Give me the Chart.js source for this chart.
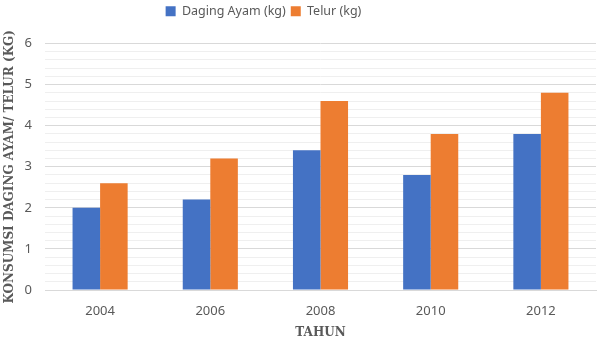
<!DOCTYPE html>
<html>
<head>
<meta charset="utf-8">
<script src="https://cdn.jsdelivr.net/npm/chart.js@4/dist/chart.umd.min.js"></script>
<style>
  html, body { margin: 0; padding: 0; background: #fff; }
  #wrap { width: 600px; height: 352px; }
</style>
</head>
<body>
<div id="wrap"><canvas id="chart"></canvas></div>
<script>
const years = ['2004', '2006', '2008', '2010', '2012'];
const dagingAyam = [2.0, 2.2, 3.4, 2.8, 3.8];
const telur = [2.6, 3.2, 4.6, 3.8, 4.8];

const isWhole = v => Math.abs(v - Math.round(v)) < 1e-6;
const titleFont = { family: '"DejaVu Serif", serif', size: 12, weight: 'bold' };

// legend sits a bit left of centre, with extra space under it
const legendTweak = {
  id: 'legendTweak',
  beforeInit(chart) {
    const fit = chart.legend.fit;
    chart.legend.fit = function () {
      fit.bind(chart.legend)();
      this.height += 16;
    };
  },
  afterLayout(chart) {
    chart.legend.left -= 35;
    chart.legend.right -= 35;
  }
};

new Chart(document.getElementById('chart'), {
  type: 'bar',
  data: {
    labels: years,
    datasets: [
      { label: 'Daging Ayam (kg)', data: dagingAyam, backgroundColor: '#4472C4' },
      { label: 'Telur (kg)', data: telur, backgroundColor: '#ED7D31' }
    ]
  },
  plugins: [legendTweak],
  options: {
    responsive: true,
    maintainAspectRatio: false,
    animation: false,
    layout: { padding: { top: 0, right: 4, left: 1, bottom: 12 } },
    datasets: { bar: { categoryPercentage: 0.5, barPercentage: 1.0 } },
    plugins: {
      legend: {
        position: 'top',
        labels: {
          boxWidth: 10, boxHeight: 10, color: '#595959',
          font: { family: 'Noto Sans', size: 12.5 }, padding: 5
        }
      },
      tooltip: { enabled: false }
    },
    scales: {
      x: {
        grid: { display: false },
        border: { color: '#d9d9d9' },
        ticks: { color: '#595959', font: { family: 'Noto Sans', size: 13 }, padding: 5 },
        title: {
          display: true, text: 'TAHUN', color: '#595959',
          font: titleFont, padding: { top: 2, bottom: 0 }
        }
      },
      y: {
        min: 0, max: 6,
        border: { display: false },
        afterFit(scale) { scale.width = 44; },
        grid: {
          drawTicks: false,
          color: ctx => isWhole(ctx.tick.value) ? '#d9d9d9' : '#efefef',
          lineWidth: 1
        },
        ticks: {
          stepSize: 0.2, autoSkip: false, color: '#595959',
          font: { family: 'Noto Sans', size: 13 }, padding: 13,
          callback: v => isWhole(v) ? Math.round(v) : ''
        },
        title: {
          display: true, text: 'KONSUMSI DAGING AYAM/ TELUR (KG)', color: '#595959',
          font: titleFont, padding: { top: 2, bottom: 0 }
        }
      }
    }
  }
});
</script>
</body>
</html>
